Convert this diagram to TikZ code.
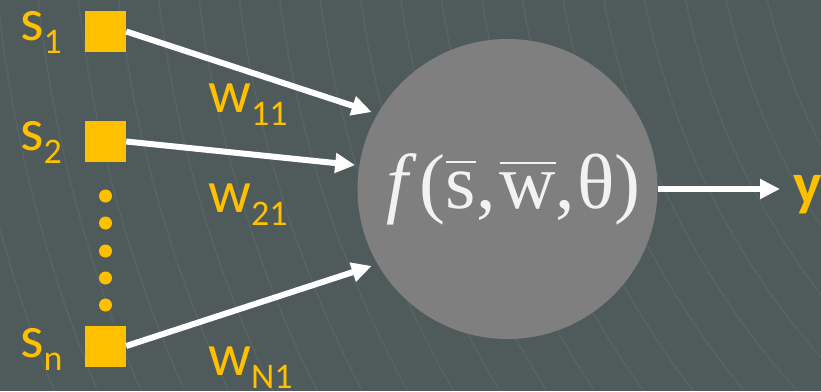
\documentclass[tikz,border=0pt]{standalone}
\usepackage{fontspec}
\setmainfont{Carlito}
\newfontfamily\serif{Liberation Serif}
\usetikzlibrary{arrows.meta, positioning}
\definecolor{bg}{HTML}{4F5A5A}
\definecolor{gold}{HTML}{FFC000}
\definecolor{cell}{HTML}{7F7F7F}
\definecolor{ink}{HTML}{F2F2F2}
\newcommand{\sub}[1]{\raisebox{-13pt}{\fontsize{36}{36}\selectfont #1}}
\newcommand{\vecbar}[1]{\vbox{\hrule height 2.8pt\kern 8pt\hbox{#1}}}
\tikzset{
  inp/.style={fill=gold, minimum size=41pt, inner sep=0pt},
  lab/.style={text=gold, font=\fontsize{60}{60}\selectfont, inner sep=0pt, anchor=base west},
  dot/.style={circle, fill=gold, minimum size=13pt, inner sep=0pt},
  a/.style={-{Triangle[length=20pt, width=19pt]}, draw=white, line width=6pt},
  neuron/.style={circle, fill=cell, minimum size=300pt, inner sep=0pt, text=ink, font=\serif\fontsize{78}{78}\selectfont},
  grain/.style={draw=white, opacity=0.05, line width=1.5pt},
}

\begin{document}
\begin{tikzpicture}[x=1pt, y=-1pt]
\fill[bg] (0,0) rectangle (821,391);
\useasboundingbox (0,0) rectangle (821,391);
% faint background texture
\begin{scope}
  \clip (0,0) rectangle (821,391);
  \foreach \r in {650,690,...,1450} \draw[grain] (1400,-150) circle[radius=\r pt];
\end{scope}

% inputs
\node[inp] (sq1) at (105.5, 31.5) {};
\node[inp] (sq2) at (105.5,141.5) {};
\node[inp] (sqn) at (105.5,346.0) {};
\foreach \y [count=\i] in {196,223,251,278,305}
  \node[dot] (d\i) at (105.5,\y) {};

\node[lab] (s1) at (20, 40) {s\sub{1}};
\node[lab] (s2) at (20,150) {s\sub{2}};
\node[lab] (sn) at (20,357) {s\sub{n}};

% weights
\node[lab] (w11) at (208,112) {w\sub{11}};
\node[lab] (w21) at (208,212) {w\sub{21}};
\node[lab] (wn1) at (208,375) {w\sub{N1}};

% neuron
\node[neuron] (f) at (507.5,189) {\kern12pt\textit{f}\kern3pt(\vecbar{s},\kern4pt\vecbar{w},\kern2ptθ)};
\node[lab, font=\bfseries\fontsize{60}{60}\selectfont] (y) at (793,204) {y};

\draw[a, shorten >=6pt] (sq1.east) -- (f.150);
\draw[a, shorten >=4pt] (sq2.east) -- (f.171);
\draw[a, shorten >=6pt] (sqn.east) -- (f.210);
\draw[a] (f.east) -- ([xshift=-13pt]f.east -| y.west);
\end{tikzpicture}
\end{document}
